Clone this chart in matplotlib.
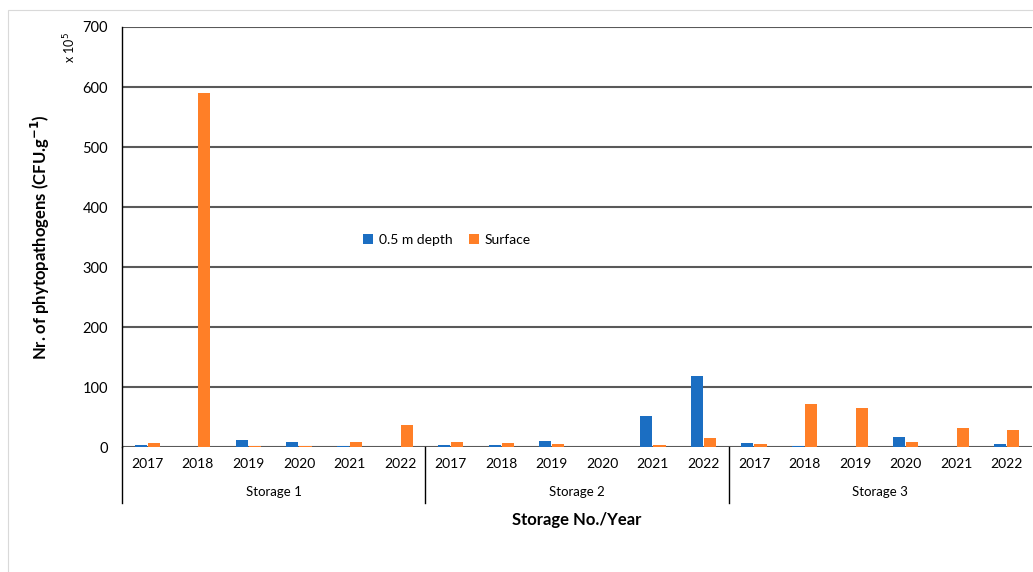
import numpy as np
import matplotlib
matplotlib.use('Agg')
import matplotlib.pyplot as plt
from matplotlib.patches import Rectangle
from matplotlib.transforms import blended_transform_factory

plt.rcParams['font.family'] = ['Lato', 'DejaVu Sans']

storages = ['Storage 1', 'Storage 2', 'Storage 3']
years = ['2017', '2018', '2019', '2020', '2021', '2022']

# values in units of 10^5 CFU per g, storage 1..3 x 2017..2022
depth_05m = [3, 0, 11, 8.5, 1.5, 0,
             4, 3, 10, 0, 52, 119,
             7, 2, 0, 16.5, 0, 5.5]
surface = [6, 590, 1.5, 1.5, 9, 37,
           9, 6, 4.5, 0, 3, 15,
           5, 72, 65, 8, 31, 29]

BLUE = '#1B6EC2'
ORANGE = '#FF7F27'

fig = plt.figure(figsize=(10.33, 5.72), dpi=100)
fig.patches.append(Rectangle((0.008, -0.1), 1.1, 1.082, transform=fig.transFigure,
                             fill=False, edgecolor='#d9d9d9', linewidth=0.8))
ax = fig.add_axes([0.1181, 0.2185, 0.881, 0.7343])

x = np.arange(len(depth_05m))
w = 0.24
ax.bar(x - 0.13, depth_05m, width=w, color=BLUE, label='0.5 m depth', zorder=3)
ax.bar(x + 0.13, surface, width=w, color=ORANGE, label='Surface', zorder=3)

ax.set_xlim(-0.5, len(x) - 0.5)
ax.set_ylim(0, 700)
ax.set_yticks(range(0, 701, 100))
ax.yaxis.grid(True, color='#595959', linewidth=1.5, zorder=0)
ax.tick_params(axis='y', length=0, labelsize=10.5, pad=10)
ax.tick_params(axis='x', length=0, labelsize=10, pad=8)
ax.set_xticks(x)
ax.set_xticklabels(years * len(storages))

for s in ['top', 'right', 'bottom']:
    ax.spines[s].set_visible(False)
ax.spines['left'].set_color('black')
ax.spines['left'].set_linewidth(1.0)

# group separators and storage labels below the axis
trans = blended_transform_factory(ax.transData, ax.transAxes)
for b in [-0.5, 5.5, 11.5]:
    ax.plot([b, b], [0, -0.133], color='black', linewidth=1.0,
            transform=trans, clip_on=False)
for i, name in enumerate(storages):
    ax.text(i * 6 + 2.5, -0.108, name, transform=trans, ha='center',
            va='center', fontsize=9.5)

ax.set_xlabel('Storage No./Year', fontsize=12, fontweight='bold', labelpad=30)
ax.set_ylabel('Nr. of phytopathogens (CFU.g$^{\\mathbf{-1}}$)', fontsize=12,
              fontweight='bold', labelpad=22)
ax.text(-0.058, 0.95, 'x 10$^5$', transform=ax.transAxes, rotation=90,
        ha='center', va='center', fontsize=9)

ax.legend(loc='center', bbox_to_anchor=(0.357, 0.493), frameon=False, ncol=2,
          fontsize=10, handlelength=0.7, handleheight=0.7, handletextpad=0.4,
          columnspacing=1.2)

fig.savefig('out.png', dpi=100)
